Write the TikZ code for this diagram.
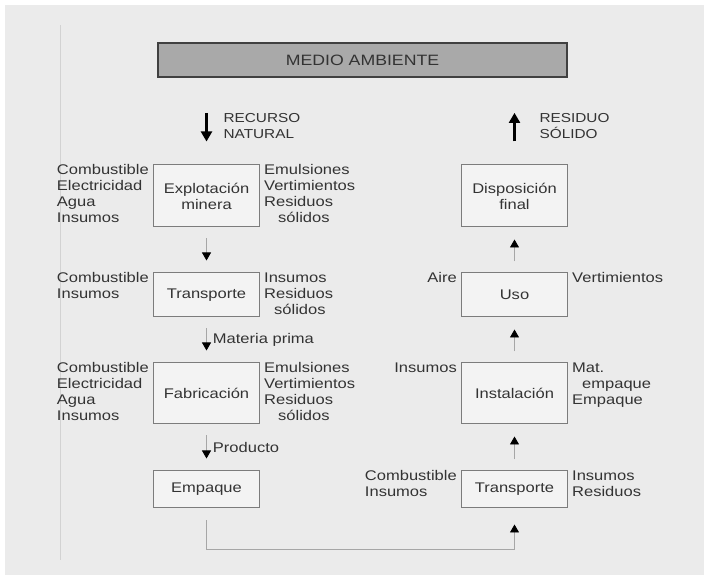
\documentclass[tikz,border=0pt]{standalone}
\usepackage{fontspec}
\setmainfont{Liberation Sans}[FakeStretch=1.18]
\usetikzlibrary{arrows.meta,positioning,calc}
\definecolor{fondo}{HTML}{EBEBEB}
\definecolor{borde}{HTML}{7C7C7C}
\definecolor{texto}{HTML}{333333}
\definecolor{titulo}{HTML}{A9A9A9}
\tikzset{
  caja/.style={draw=borde, line width=1pt, fill=fondo!60!white, minimum width=106pt, align=center, inner sep=2pt, text=texto, font=\fontsize{14}{16}\selectfont},
  lbl/.style={inner sep=0pt, align=left, text=texto, font=\fontsize{14}{16}\selectfont},
  flecha/.style={draw=gray!70, line width=0.9pt, -{Triangle[length=8pt,width=9pt,color=black]}, shorten <=11pt, shorten >=12pt},
  gruesa/.style={black, line width=2.2pt, -{Triangle[length=10pt,width=11pt]}},
}
\begin{document}
\begin{tikzpicture}[x=1pt,y=1pt]
%Fondo y linea vertical
\fill[white] (0,0) rectangle (709,580);
\fill[fondo] (5,5) rectangle (704,575);
\draw[gray!35, line width=1pt] (60,20) -- (60,555);

\node[draw=black!75, line width=1.8pt, fill=titulo, minimum width=409pt, minimum height=34pt, text=texto, font=\fontsize{15}{18}\selectfont] (medio) at (362.5,520) {MEDIO AMBIENTE};

%Columna izquierda
\node[caja, minimum height=62pt] (expl) at (206.5,384) {Explotación\\minera};
\node[caja, minimum height=44pt, below=45pt of expl] (tr1) {Transporte};
\node[caja, minimum height=61pt, below=45pt of tr1] (fab) {Fabricación};
\node[caja, minimum height=37pt, below=46pt of fab] (emp) {Empaque};
%Columna derecha
\node[caja, minimum height=62pt, right=201pt of expl] (disp) {Disposición\\final};
\node[caja, minimum height=44pt, below=45pt of disp] (uso) {Uso};
\node[caja, minimum height=61pt, below=45pt of uso] (inst) {Instalación};
\node[caja, minimum height=37pt, below=46pt of inst] (tr2) {Transporte};

%Entradas y salidas
\node[lbl, anchor=north east] (explIn) at ([xshift=-4pt]expl.north west) {Combustible\\Electricidad\\Agua\\Insumos};
\node[lbl, anchor=north west] (explOut) at ([xshift=4pt]expl.north east) {Emulsiones\\Vertimientos\\Residuos\\\hspace*{14pt}sólidos};
\node[lbl, anchor=north east] (tr1In) at ([xshift=-4pt]tr1.north west) {Combustible\\Insumos};
\node[lbl, anchor=north west] (tr1Out) at ([xshift=4pt]tr1.north east) {Insumos\\Residuos\\\hspace*{10pt}sólidos};
\node[lbl, anchor=north east] (fabIn) at ([xshift=-4pt]fab.north west) {Combustible\\Electricidad\\Agua\\Insumos};
\node[lbl, anchor=north west] (fabOut) at ([xshift=4pt]fab.north east) {Emulsiones\\Vertimientos\\Residuos\\\hspace*{14pt}sólidos};
\node[lbl, anchor=north east] (usoIn) at ([xshift=-4pt]uso.north west) {Aire};
\node[lbl, anchor=north west] (usoOut) at ([xshift=4pt]uso.north east) {Vertimientos};
\node[lbl, anchor=north east] (instIn) at ([xshift=-4pt]inst.north west) {Insumos};
\node[lbl, anchor=north west] (instOut) at ([xshift=4pt]inst.north east) {Mat.\\\hspace*{10pt}empaque\\Empaque};
\node[lbl, anchor=north east] (tr2In) at ([xshift=-4pt]tr2.north west) {Combustible\\Insumos};
\node[lbl, anchor=north west] (tr2Out) at ([xshift=4pt]tr2.north east) {Insumos\\Residuos};

%Flechas
\draw[gruesa, shorten <=35pt, shorten >=23pt] (medio.south -| expl.north) -- node[lbl, right=16pt, yshift=-5pt, font=\fontsize{13}{16}\selectfont] (recurso) {RECURSO\\NATURAL} (expl.north);
\draw[gruesa, shorten <=23pt, shorten >=35pt] (disp.north) -- node[lbl, right=24pt, yshift=-5pt, font=\fontsize{13}{16}\selectfont] (residuo) {RESIDUO\\SÓLIDO} (medio.south -| disp.north);
\draw[flecha] (expl) -- (tr1);
\draw[flecha] (tr1) -- node[lbl, right=6pt] (mprima) {Materia prima} (fab);
\draw[flecha] (fab) -- node[lbl, right=6pt] (prod) {Producto} (emp);
\foreach \a/\b in {tr2/inst,inst/uso,uso/disp}
  \draw[flecha] (\a) -- (\b);
\coordinate (giro) at ([yshift=-41pt]emp.south);
\draw[flecha, shorten <=12pt, shorten >=16pt] (emp.south) -- (giro) -| (tr2.south);
\end{tikzpicture}
\end{document}
